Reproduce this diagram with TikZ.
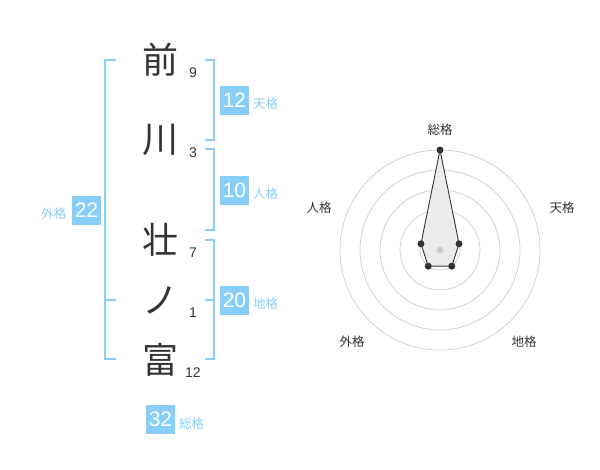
\documentclass[tikz,border=0pt]{standalone}
\usepackage{fontspec}
\usetikzlibrary{calc}
\setmainfont{Liberation Sans}
\newfontfamily\jp{Noto Sans CJK JP}
\definecolor{skyb}{HTML}{87CEFA}
\definecolor{ink}{HTML}{333333}
\definecolor{ring}{HTML}{CCCCCC}
\definecolor{polyfill}{HTML}{EBEBEB}
\begin{document}
\begin{tikzpicture}[x=1pt,y=-1pt,
  kanji/.style={inner sep=0pt,text=ink,font=\jp\fontsize{36}{36}\selectfont},
  strokes/.style={inner sep=0pt,anchor=base,text=ink,font=\fontsize{14}{14}\selectfont},
  valbox/.style={fill=skyb,text=white,minimum width=29pt,minimum height=29pt,inner sep=0pt,font=\fontsize{21}{21}\selectfont},
  vallabel/.style={inner sep=0pt,text=skyb,font=\jp\fontsize{12.5}{12.5}\selectfont},
  bracket/.style={draw=skyb,line width=1.6pt},
  axislabel/.style={inner sep=0pt,text=ink,font=\jp\fontsize{12.5}{12.5}\selectfont},
  ringline/.style={draw=ring,line width=0.7pt},
  dot/.style={circle,fill=ink,inner sep=0pt,minimum size=7pt}]
\useasboundingbox (0,0) rectangle (600,470);
% characters
\node[kanji] (c1) at (160,60) {前};
\node[kanji] (c2) at (160,140) {川};
\node[kanji] (c3) at (160,240) {壮};
\node[kanji] (c4) at (160,300) {ノ};
\node[kanji] (c5) at (160,360) {富};
\node[strokes] (n1) at (193,77.5) {9};
\node[strokes] (n2) at (193,157.5) {3};
\node[strokes] (n3) at (193,257.5) {7};
\node[strokes] (n4) at (193,317.5) {1};
\node[strokes] (n5) at (193,377.5) {12};
% brackets
\draw[bracket] (116,60) -- (105,60) -- (105,359) -- (116,359);
\draw[bracket] (105,300) -- (116,300);
\draw[bracket] (205,60) -- (214,60) -- (214,140) -- (205,140);
\draw[bracket] (205,149) -- (214,149) -- (214,230) -- (205,230);
\draw[bracket] (205,240) -- (214,240) -- (214,359) -- (205,359);
\draw[bracket] (205,300) -- (214,300);
% values
\node[valbox] (ten) at (234.5,100.5) {12};
\node[vallabel,anchor=west] (tenl) at (253,104) {天格};
\node[valbox] (jin) at (234.5,190.5) {10};
\node[vallabel,anchor=west] (jinl) at (253,194) {人格};
\node[valbox] (chi) at (234.5,300.5) {20};
\node[vallabel,anchor=west] (chil) at (253,304) {地格};
\node[valbox] (gai) at (86.5,210.5) {22};
\node[vallabel,anchor=east] (gail) at (66.5,213.5) {外格};
\node[valbox] (sou) at (160.5,419.5) {32};
\node[vallabel,anchor=west] (soul) at (179,423.5) {総格};
% radar
\coordinate (o) at (440,250);
\foreach \r in {20,40,60,80,100} \draw[ringline] (o) circle (\r);
\coordinate (p1) at ($(o)+(-90:100)$);
\coordinate (p2) at ($(o)+(-18:20)$);
\coordinate (p3) at ($(o)+(54:20)$);
\coordinate (p4) at ($(o)+(126:20)$);
\coordinate (p5) at ($(o)+(198:20)$);
\draw[draw=ink,fill=polyfill,line width=0.9pt,line join=round] (p1) -- (p2) -- (p3) -- (p4) -- (p5) -- cycle;
\fill[ring] (o) circle (3.2);
\foreach \p in {p1,p2,p3,p4,p5} \node[dot] at (\p) {};
\node[axislabel] (a1) at (440,130) {総格};
\node[axislabel] (a2) at (562,208) {天格};
\node[axislabel] (a3) at (524,342) {地格};
\node[axislabel] (a4) at (352,342) {外格};
\node[axislabel] (a5) at (319,208) {人格};
\end{tikzpicture}
\end{document}
